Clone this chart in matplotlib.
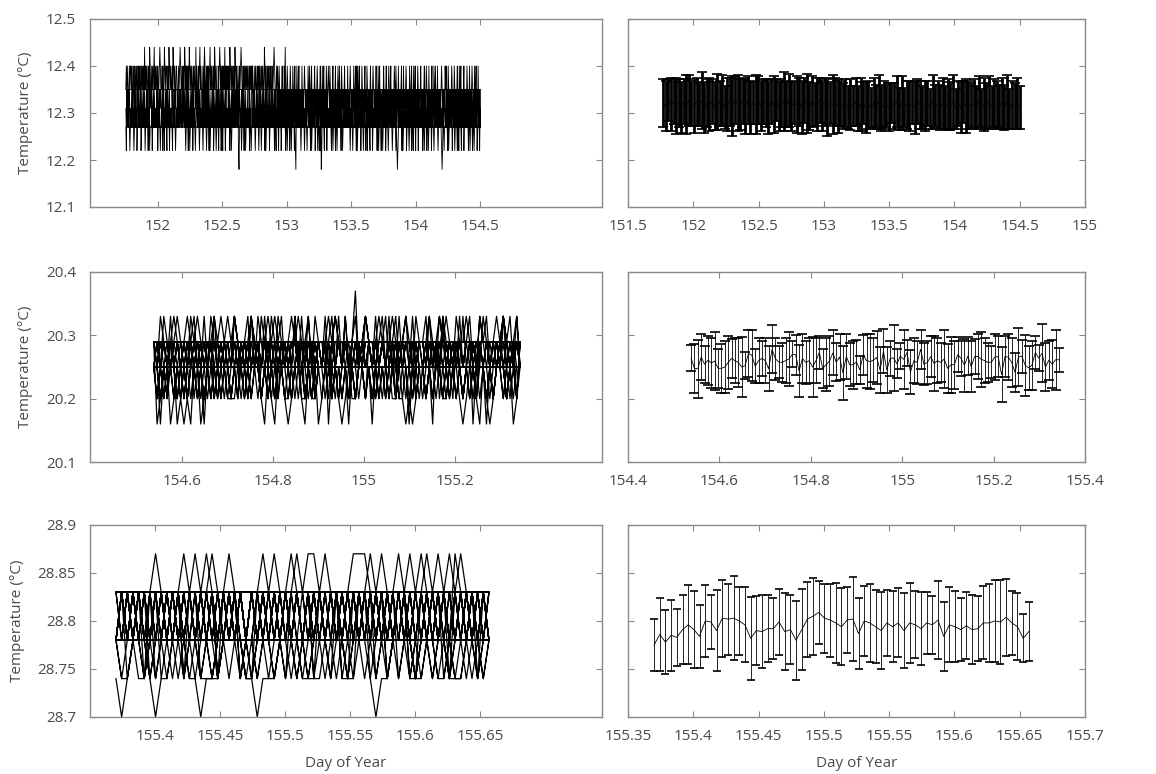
import numpy as np
import matplotlib
matplotlib.use("Agg")
import matplotlib.pyplot as plt

plt.rcParams['font.family'] = ['Open Sans', 'DejaVu Sans']

# ---------------- data ----------------
# Row 1 (sensor traces, coded as indices into levels1)
t1_range = (151.75, 154.505)
levels1 = [12.18, 12.22, 12.27, 12.31, 12.35, 12.40, 12.44]
sensors1 = [
    # middle sensor
    "3243423432 2342432342 4323424234 3242342432 2434232434 3423424323 2432342434 3242432342 4234324232 2434234243 "
    "3242342432 4323424235 2342432342 4234232434 3423424323 2434253242 4232432342 3424234234 2342432512 4234324232 "
    "3242432342 4234232434 2342432342 3424324232 4232432345 2342432342 3423424234 2432342423 4234234324 2342432342 "
    "4234232432 3242432342 2432342423 4234234324 3242432342 4232432342 2432342434 3423424234 2342432342 4234234232 "
    "3242432342 2432342423 4234234324 3242432342 4232432342 2432352434 3423424234 2342432342 4234234232 3242432342 "
    "2432342423 4234234324 3242432342 4232432342 2432342434 3423424234 2342432342 4234234232 3242432342 2432342423 "
    "4234234324 3242432342 4232432342 2432342434 3423424234 2342432342 4234234232 3242432342 2432342423 4234234324",
    # upper sensor
    "4545434545 5453454354 4543545453 4545454645 5454354654 4545456454 5435445654 4545346545 5435465454 4546545435 "
    "5434545654 4535446545 3545465454 5435454364 5435456454 3454565435 4535456454 5435465454 4354565454 3545464535 "
    "4535465454 5435465453 4543545654 3545454545 4543545454 5434545435 4545345454 5436545345 4543545345 4565434545 "
    "4354343453 4354643454 3434543435 4345343543 4534343534 3454343435 4354345343 3453434543 4345343534 5343354345 "
    "4354343453 4345343454 3534354343 4534343534 3454343435 4345343534 5343354343 4534354343 3453434543 4345343534 "
    "5343343453 4345343454 3453434345 4354343534 3345343534 3454343435 4345343534 5343354343 4534343453 3454343534 "
    "4345343543 5343534334 3454343435 4534354343 3454343543 4345343534 5343345343 4354343534 3454343534 5343534322",
    # lower sensor
    "2132323212 3223321232 2312232323 1223232312 3232132122 2312232232 3231223212 3221321322 2132231223 3213223212 "
    "2323232432 3234323212 3221321232 2312232123 3223212322 3212232321 2322131232 3231223212 3221323312 2132231223 "
    "3223213212 3232343232 2310223212 3221321232 2332132123 3223212322 3212232122 2322131232 3231223232 3221321322 "
    "2132231223 3223213212 3221321232 2312103223 3223212322 3212232122 2322131232 3231223212 3121301322 2132231223 "
    "3223213212 3221321232 2332132123 2323243232 3212232122 2322131232 3231223212 3221321322 2132231223 3223213212 "
    "3221321232 2312232123 3223212322 3212101232 2322131232 3231223212 3221321322 2132231223 3223213212 3221321232 "
    "2312232123 3223212322 3210132122 2322131232 3231223212 3221321322 2132231223 3223213212 3221321232 2312232132",
]
# Row 1 right panel: mean and spread, coded into lookup tables
t1e_range = (151.77, 154.50)
mean1_levels = [12.306, 12.309, 12.312, 12.315, 12.318, 12.321, 12.324, 12.327, 12.330, 12.333]
err1_levels = [0.036, 0.039, 0.042, 0.045, 0.048, 0.051, 0.054, 0.057, 0.060, 0.063]
mean1_codes = ("5374635264 7536472546 3657246375 4637254736 5264735647 3546275364 4736254635 "
               "3524361452 4253614325 3615243526 4235163425 2436152634 3526143625 4352614352")
err1_codes = ("5637485649 6475386574 5846375958 6485739564 5748365947 6385749563 7465839574 "
              "4536254736 5263745352 4637256374 5364273546 3657246375 4536274635 5364725463")

# Row 2
t2_range = (154.538, 155.343)
levels2 = [20.16, 20.20, 20.25, 20.29, 20.33, 20.37]
sensors2 = [
    "3243234323 4323242343 2343432324 3243234342 3432423243 2343432423 5234323434 2342343243 3423243432 4323423243 2343432342",
    "2121221212 1221212122 2121122121 2212121221 1212212112 2121212212 1221212121 2112122121 2121221212 1212121221 2122121213",
    "3012201210 1222012121 2211213221 2310221221 0122112120 1221210122 2321202212 1221101012 1222321122 2101221021 0122212012",
    "2202132012 1023202332 2323322323 2332210232 3223102322 2302233202 3223322232 2332320223 3220323322 3223302320 2332232233",
    "3323322333 2323232332 3233223232 3322323223 2332332323 3223233322 2332223233 3232233223 2323322323 2323332223 3322233232",
    "2233223232 3222323322 2322332232 3223222323 2332232223 2322332322 3232223232 2223322323 3232232232 2322332223 2232322322",
    "2212321222 1232212321 2221232122 3212212232 1222312212 2231221232 1222321221 2312221232 2122312222 3212221322 1223212213",
    "3224323322 2342332432 3322432342 2433243322 3242334232 2334232423 3224323342 4232342332 2343224323 3242332434 2332434232",
    "2232122321 2122322312 3221232212 2122322132 2321221232 2213222321 1232212232 2321222312 2123221232 3212232122 2232122313",
    "3323323432 3234332323 4332333234 3323432332 3334323323 2333432333 3234332332 3433233323 3323343233 2334323333 3323432332",
    "2212222122 2221222212 1222212222 2212221222 2122222122 2221212222 1222222122 2212222212 2222122212 1222212222 2122212222",
    "2333233323 3233332333 2333323332 3323333233 3332333323 2333233333 3323332333 3233333233 3332333323 3323332333 2333323332",
    "2323242323 2432323242 3232432324 2324232432 3242324232 2423242323 4232324232 2324232423 3242324232 2423232432 3232423242",
    "2121232121 2312121232 1212321212 3212123121 2123212312 1232121213 2121321232 1213212123 2121232121 3212121321 2123212122",
]

# Row 3
t3_range = (155.370, 155.657)
levels3 = [28.70, 28.74, 28.78, 28.83, 28.87]
sensors3 = [
    "1012321011 2322101123 2321101122 3232111223 2322310112 3211123221 1123232",
    "2323233432 3233433432 3232334323 3433443232 3344432323 4323433432 4323233",
    "3232322323 2343234323 4322323343 2343233432 3223343432 3343343234 3432322",
    "2323231232 3223211123 2312323232 1232323212 3232123232 2321232321 2323232",
    "2232323122 3232312232 3212323232 3232232123 2323232312 3223232123 2321233",
    "3323212323 2323232123 3232212323 2123232323 1232323223 2321232322 3232123",
    "3232321232 2312323232 1232323212 3232323232 2123232323 2312323232 1232322",
    "2123232323 2321232312 3232323212 3232123232 3212323232 3232123232 3212322",
    "2112323221 2312232112 3221123232 2321123223 1122323212 3221232112 2232123",
    "3322312232 1223322312 2332212232 3212233221 2332231223 3312232231 2233212",
    "2232113232 2321122323 3221232112 2322312232 2113223232 1223221232 1123222",
    "2323322312 3232212332 2312332223 3221232332 2332212323 3223321232 3322323",
    "3323322332 3233232323 2332323332 3232332323 3323232332 2332323233 3232332",
    "2232212232 2123222312 2322122232 2212232213 2232221223 1222322312 2232212",
    "2333232333 3233323332 3332333233 2333323332 3233333233 3323332333 2333322",
    "2223232223 2322232322 2232322232 3222323222 2322232232 2232223223 2223222",
    "2312332123 3213323213 2332132332 1332313233 2132332312 3321323321 3323132",
    "2332323223 3223233232 2332232323 3232332232 2323323223 3232232332 2323232",
]
mean3 = [28.775, 28.786, 28.778, 28.785, 28.783, 28.791, 28.796, 28.791, 28.784, 28.800,
         28.799, 28.790, 28.803, 28.802, 28.803, 28.800, 28.796, 28.782, 28.790, 28.789,
         28.792, 28.792, 28.799, 28.789, 28.791, 28.780, 28.791, 28.802, 28.805, 28.809,
         28.803, 28.801, 28.798, 28.794, 28.801,
         28.802, 28.787, 28.800, 28.798, 28.794, 28.790, 28.798, 28.794, 28.798, 28.790,
         28.798, 28.796, 28.792, 28.798, 28.796, 28.801, 28.784, 28.796, 28.794, 28.791,
         28.795, 28.791, 28.792, 28.798, 28.798, 28.800, 28.799, 28.804, 28.798, 28.794,
         28.782, 28.789]
err3 = [0.027, 0.038, 0.033, 0.037, 0.030, 0.036, 0.041, 0.040, 0.033, 0.038,
        0.028, 0.042, 0.040, 0.037, 0.044, 0.035, 0.039, 0.043, 0.036, 0.038,
        0.035, 0.032, 0.034, 0.040, 0.036, 0.041, 0.042, 0.039, 0.040, 0.033,
        0.036, 0.038, 0.042, 0.040, 0.034,
        0.044, 0.037, 0.036, 0.041, 0.038, 0.040, 0.034, 0.037, 0.036, 0.039,
        0.042, 0.035, 0.038, 0.032, 0.030, 0.041, 0.036, 0.039, 0.037, 0.033,
        0.035, 0.036, 0.034, 0.038, 0.041, 0.043, 0.044, 0.040, 0.033, 0.035,
        0.025, 0.031]

# axis settings
left_xlims = [(151.472, 155.447), (154.398, 155.523), (155.35, 155.744)]
right_xlims = [(151.5, 155.0), (154.4, 155.4), (155.35, 155.7)]
left_xticks = [[152, 152.5, 153, 153.5, 154, 154.5],
               [154.6, 154.8, 155, 155.2],
               [155.4, 155.45, 155.5, 155.55, 155.6, 155.65]]
right_xticks = [[151.5, 152, 152.5, 153, 153.5, 154, 154.5, 155],
                [154.4, 154.6, 154.8, 155, 155.2, 155.4],
                [155.35, 155.4, 155.45, 155.5, 155.55, 155.6, 155.65, 155.7]]
ylims = [(12.1, 12.5), (20.1, 20.4), (28.7, 28.9)]
yticks = [[12.1, 12.2, 12.3, 12.4, 12.5],
          [20.1, 20.2, 20.3, 20.4],
          [28.7, 28.75, 28.8, 28.85, 28.9]]


def decode(strings, levels):
    codes = [s.replace(' ', '') for s in strings]
    n = min(len(c) for c in codes)
    return np.array([[levels[int(ch)] for ch in c[:n]] for c in codes])


def fmt(v):
    return ('%.2f' % v).rstrip('0').rstrip('.')


Y1 = decode(sensors1, levels1)
Y2 = decode(sensors2, levels2)
Y3 = decode(sensors3, levels3)
t1 = np.linspace(*t1_range, Y1.shape[1])
t2 = np.linspace(*t2_range, Y2.shape[1])
t3 = np.linspace(*t3_range, Y3.shape[1])

m1 = decode([mean1_codes], mean1_levels)[0]
e1 = decode([err1_codes], err1_levels)[0]
n1 = min(len(m1), len(e1))
m1, e1 = m1[:n1], e1[:n1]
t1e = np.linspace(*t1e_range, n1)

fig = plt.figure(figsize=(11.56, 7.74), dpi=100)
W, H = 1156, 774
rows_px = [(19, 207), (272, 462), (525, 717)]
left_px = (90, 602)
right_px = (628, 1085)

text_col = '#4a4a4a'
spine_col = '#8a8a8a'

data = [(t1, Y1), (t2, Y2), (t3, Y3)]
capsizes = [3.6, 3.3, 3.0]
trace_lw = [0.6, 0.9, 0.9]
elw = [2.0, 0.6, 0.6]

for r in range(3):
    top, bot = rows_px[r]
    axL = fig.add_axes([left_px[0] / W, 1 - bot / H, (left_px[1] - left_px[0]) / W, (bot - top) / H])
    axR = fig.add_axes([right_px[0] / W, 1 - bot / H, (right_px[1] - right_px[0]) / W, (bot - top) / H])
    t, Y = data[r]
    X = np.tile(t, Y.shape[0])
    axL.plot(X, Y.ravel(), color='k', lw=trace_lw[r])

    if r == 0:
        te, m, e = t1e, m1, e1
    elif r == 1:
        te, m, e = t, Y.mean(axis=0), Y.std(axis=0, ddof=1)
    else:
        te, m, e = t3, np.array(mean3), np.array(err3)
    axR.errorbar(te, m, yerr=e, color='k', lw=0.6, elinewidth=elw[r],
                 capsize=capsizes[r], capthick=1.2)

    for ax, xl, xt in [(axL, left_xlims[r], left_xticks[r]), (axR, right_xlims[r], right_xticks[r])]:
        ax.set_xlim(*xl)
        ax.set_ylim(*ylims[r])
        ax.set_xticks(xt)
        ax.set_xticklabels([fmt(v) for v in xt])
        ax.set_yticks(yticks[r])
        ax.tick_params(direction='in', length=4, top=True, right=True, color=spine_col,
                       labelcolor=text_col, labelsize=11)
        ax.tick_params(axis='x', pad=9)
        ax.tick_params(axis='y', pad=10)
        for sp in ax.spines.values():
            sp.set_color(spine_col)
            sp.set_linewidth(1.0)
    axL.set_yticklabels([fmt(v) for v in yticks[r]])
    axR.set_yticklabels([])
    axL.set_ylabel('Temperature (°C)', color=text_col, fontsize=11, labelpad=9)
    if r == 2:
        axL.set_xlabel('Day of Year', color=text_col, fontsize=11, labelpad=8)
        axR.set_xlabel('Day of Year', color=text_col, fontsize=11, labelpad=8)

fig.savefig('out.png', dpi=100)
